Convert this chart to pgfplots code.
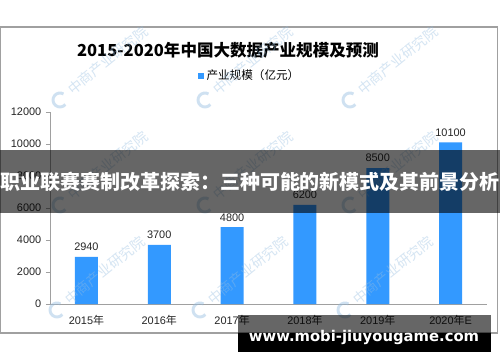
\documentclass[border=0pt]{standalone}
\usepackage{pgfplots}
\pgfplotsset{compat=1.18}
\usepackage{fontspec}
\setmainfont{Liberation Sans}
\newfontfamily\cjk{Noto Sans CJK SC}
\newfontfamily\urlfont{DejaVu Sans}
\definecolor{barblue}{RGB}{51,153,255}
\definecolor{axgray}{RGB}{160,160,160}
\definecolor{wm}{RGB}{150,190,225}
\begin{document}
\begin{tikzpicture}
\useasboundingbox (0,0) rectangle (375pt,271.5pt);
\fill[white] (0,0) rectangle (375pt,271.5pt);
\begin{scope}[x=0.75pt,y=-0.75pt,yshift=271.5pt]
  \draw[axgray,line width=0.8pt] (0.5,27) rectangle (497.5,333);
\end{scope}
\begin{axis}[
  at={(37.5pt,43.5pt)}, anchor=south west,
  scale only axis, width=327.75pt, height=144pt,
  ybar, bar width=17.25pt,
  ymin=0, ymax=12000, xmin=-0.5, xmax=5.5,
  axis x line*=bottom, axis y line*=left,
  axis line style={axgray, line width=0.6pt},
  xtick=data,
  xticklabels={{2015{\cjk 年}},{2016{\cjk 年}},{2017{\cjk 年}},{2018{\cjk 年}},{2019{\cjk 年}},{2020{\cjk 年}E}},
  x tick style={draw=none},
  ytick={0,2000,4000,6000,8000,10000,12000},
  y tick style={axgray, line width=0.6pt},
  major tick length=3pt,
  tick align=outside,
  scaled y ticks=false,
  /pgf/number format/1000 sep={},
  /pgf/number format/assume math mode=true,
  tick label style={font=\fontsize{8.2}{10}\selectfont, text=black!85},
  xticklabel style={yshift=-2pt},
  nodes near coords,
  nodes near coords style={font=\fontsize{8.2}{10}\selectfont, text=black!85, /pgf/number format/assume math mode=true, yshift=1pt},
  legend style={at={(0.458,1.1875)}, anchor=center, draw=none, fill=none,
    font=\cjk\fontsize{8.7}{10}\selectfont, inner sep=0pt},
  legend image code/.code={\fill[barblue] (0pt,-2.2pt) rectangle (4.2pt,2pt);},
]
\addplot[fill=barblue, draw=none] coordinates {(0,2940) (1,3700) (2,4800) (3,6200) (4,8500) (5,10100)};
\addlegendentry{产业规模（亿元）}
\end{axis}
\begin{scope}[x=0.75pt,y=-0.75pt,yshift=271.5pt]
  \node[font=\cjk\bfseries\fontsize{12.4}{14}\selectfont, text=black] at (228,50) {2015-2020年中国大数据产业规模及预测};
  % watermarks
  \foreach \wx/\wy in {60/100,205/100,350/100,60/205,205/205,350/205,57/310,200/310,345/310}{
    \draw[wm, opacity=0.45, line width=2.2pt] (\wx,\wy) ++(40:7) arc[start angle=40,end angle=300,radius=7];
    \node[wm, opacity=0.4, rotate=39, anchor=west, font=\cjk\fontsize{10.5}{12}\selectfont] at (\wx+6,\wy-6) {中商产业研究院};
  }
  % banner
  \fill[black, opacity=0.6] (0,150) rectangle (500,213);
  \node[text=white, font=\cjk\bfseries\fontsize{15}{17}\selectfont] at (250,181.5) {职业联赛赛制改革探索：三种可能的新模式及其前景分析};
  % bottom banner
  \fill[black, opacity=0.6] (238,315) rectangle (491,333);
  \fill[black] (238,333) rectangle (491,352);
  \node[text=white, font=\urlfont\bfseries\fontsize{11.1}{13}\selectfont] at (364,337) {www.mobi-jiuyougame.com};
\end{scope}
\end{tikzpicture}
\end{document}
